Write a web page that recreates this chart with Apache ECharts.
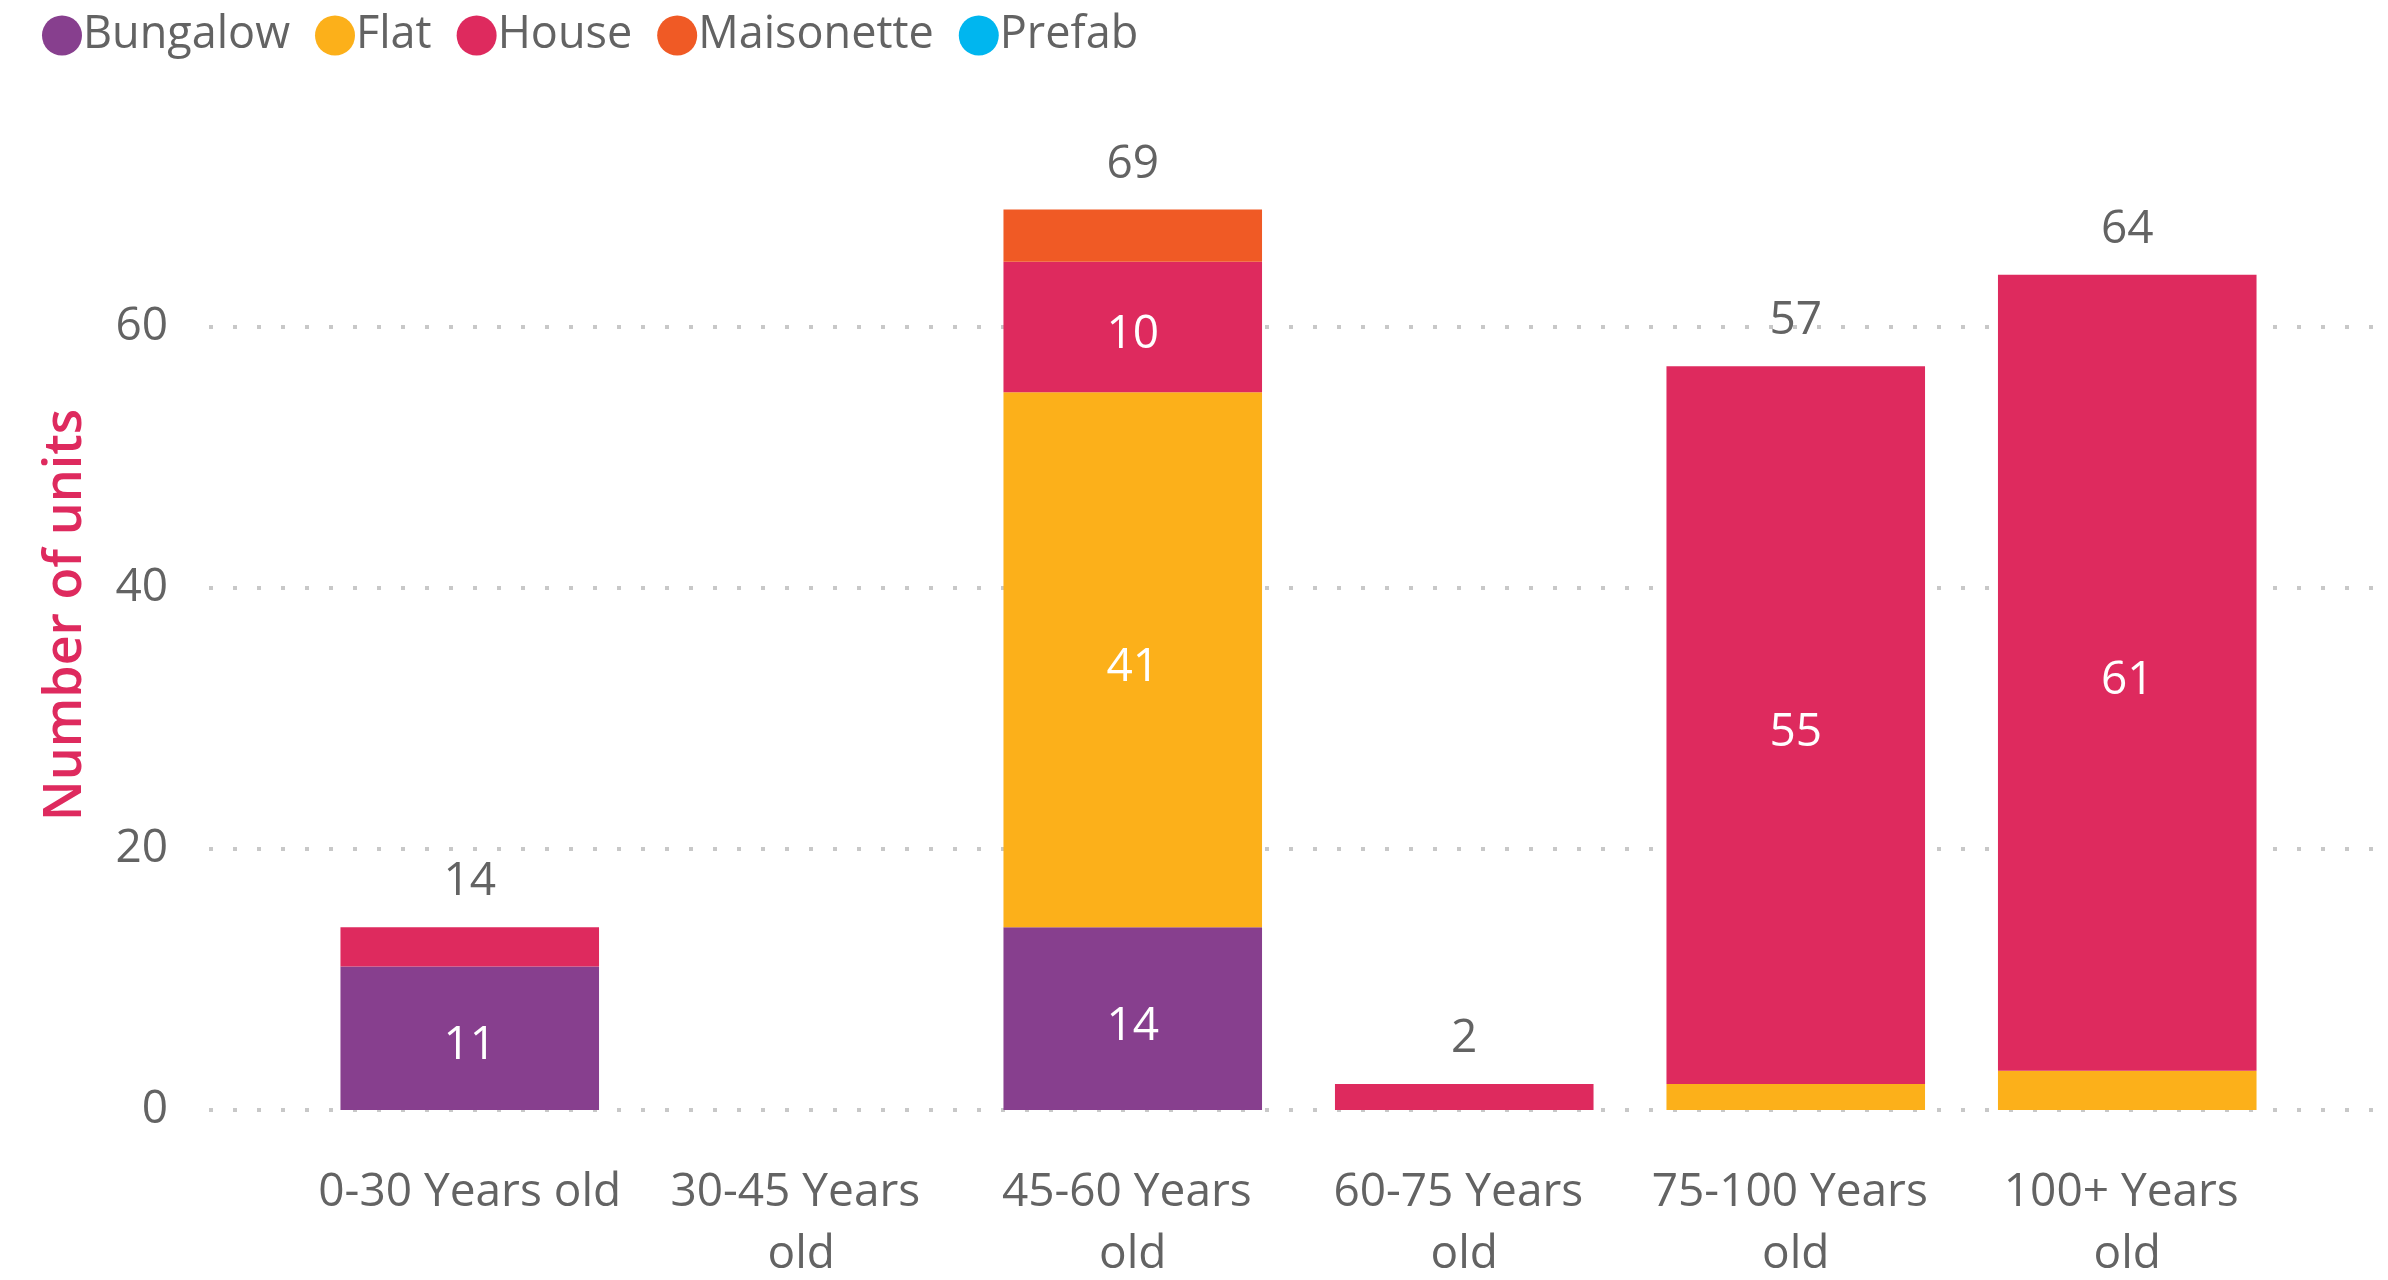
<!DOCTYPE html>
<html>
<head>
<meta charset="utf-8">
<title>Number of units by property age</title>
<script src="https://cdn.jsdelivr.net/npm/echarts@6/dist/echarts.min.js"></script>
<style>
  html, body { margin: 0; padding: 0; background: #ffffff; }
  #chart { width: 2388px; height: 1280px; }
</style>
</head>
<body>
<div id="chart"></div>
<script>
// Property age bands
const categories = ['0-30 Years old', '30-45 Years old', '45-60 Years old', '60-75 Years old', '75-100 Years old', '100+ Years old'];

// Units per property type in each age band
const bungalow   = [11, 0, 14, 0, 0, 0];
const flat       = [0, 0, 41, 0, 2, 3];
const house      = [3, 0, 10, 2, 55, 61];
const maisonette = [0, 0, 4, 0, 0, 0];
const prefab     = [0, 0, 0, 0, 0, 0];

// Value axis ticks
const yTicks = [0, 20, 40, 60];

const seriesNames = ['Bungalow', 'Flat', 'House', 'Maisonette', 'Prefab'];
const seriesData = [bungalow, flat, house, maisonette, prefab];
const colors = ['#873F8E', '#FCB01A', '#DE2A5E', '#F05A25', '#00B6EF'];

const totals = categories.map((_, i) => seriesData.reduce((s, arr) => s + arr[i], 0));

const FONT = "'Segoe UI', 'Open Sans', 'Noto Sans', sans-serif";
const GREY = '#636363';
const AXIS_MAX = 70;
const GRID_TOP = 1110 - AXIS_MAX * 13.05;

const chart = echarts.init(document.getElementById('chart'), null, { renderer: 'canvas' });

const stackSeries = seriesNames.map((name, k) => ({
  name: name,
  type: 'bar',
  stack: 'units',
  xAxisIndex: 1,
  yAxisIndex: 1,
  barWidth: '78%',
  itemStyle: { color: colors[k] },
  label: {
    show: true,
    position: 'inside',
    offset: [0, 8],
    color: '#ffffff',
    fontFamily: FONT,
    fontSize: 46,
    // segments too short to hold their number stay unlabelled
    formatter: p => (p.value >= 5 ? String(p.value) : '')
  },
  emphasis: { disabled: true },
  data: seriesData[k].slice()
}));

// zero-height bar on top of each stack carrying the column total
const totalSeries = {
  name: 'Total',
  type: 'bar',
  stack: 'units',
  xAxisIndex: 1,
  yAxisIndex: 1,
  barWidth: '78%',
  itemStyle: { color: 'rgba(0,0,0,0)' },
  label: {
    show: true,
    position: 'top',
    distance: 22,
    color: GREY,
    fontFamily: FONT,
    fontSize: 46,
    formatter: p => (totals[p.dataIndex] > 0 ? String(totals[p.dataIndex]) : '')
  },
  emphasis: { disabled: true },
  data: categories.map(() => 0)
};

const option = {
  backgroundColor: '#ffffff',
  animation: false,
  color: colors,
  legend: {
    data: seriesNames,
    left: 37,
    top: 8,
    icon: 'circle',
    itemWidth: 40,
    itemHeight: 40,
    itemGap: 25,
    textStyle: { color: GREY, fontFamily: FONT, fontSize: 45, padding: [0, 0, 0, -4] }
  },
  grid: [
    // background grid carrying the value axis and dotted gridlines
    { left: 209, right: 12, top: GRID_TOP, bottom: 170, outerBoundsMode: 'none', containLabel: false },
    // grid holding the columns
    { left: 304, right: 95, top: GRID_TOP, bottom: 170, outerBoundsMode: 'none', containLabel: false }
  ],
  xAxis: [
    { type: 'value', gridIndex: 0, min: 0, max: 1, show: false },
    {
      type: 'category',
      gridIndex: 1,
      data: categories,
      axisLine: { show: false },
      axisTick: { show: false },
      axisLabel: {
        color: GREY,
        fontFamily: FONT,
        fontSize: 46,
        lineHeight: 62,
        margin: 52,
        width: 307,
        overflow: 'break',
        interval: 0
      }
    }
  ],
  yAxis: [
    {
      type: 'value',
      gridIndex: 0,
      min: 0,
      max: AXIS_MAX,
      interval: yTicks[1] - yTicks[0],
      axisLine: { show: false },
      axisTick: { show: false },
      axisLabel: {
        color: GREY,
        fontFamily: FONT,
        fontSize: 46,
        margin: 41,
        verticalAlign: 'middle',
        padding: [8, 0, 0, 0],
        showMaxLabel: false,
        formatter: v => (yTicks.indexOf(v) >= 0 ? String(v) : '')
      },
      splitLine: {
        show: true,
        showMaxLine: false,
        lineStyle: { color: '#c8c8c8', width: 4, type: [4, 20] }
      }
    },
    { type: 'value', gridIndex: 1, min: 0, max: AXIS_MAX, show: false }
  ],
  graphic: [
    {
      type: 'text',
      x: 66,
      y: 615,
      rotation: Math.PI / 2,
      style: {
        text: 'Number of units',
        fill: '#DE2A5E',
        font: "600 52px 'Segoe UI', 'Open Sans', 'Noto Sans', sans-serif",
        align: 'center',
        verticalAlign: 'middle',
        textAlign: 'center',
        textVerticalAlign: 'middle'
      }
    }
  ],
  series: stackSeries.concat([totalSeries])
};

chart.setOption(option);
</script>
</body>
</html>
